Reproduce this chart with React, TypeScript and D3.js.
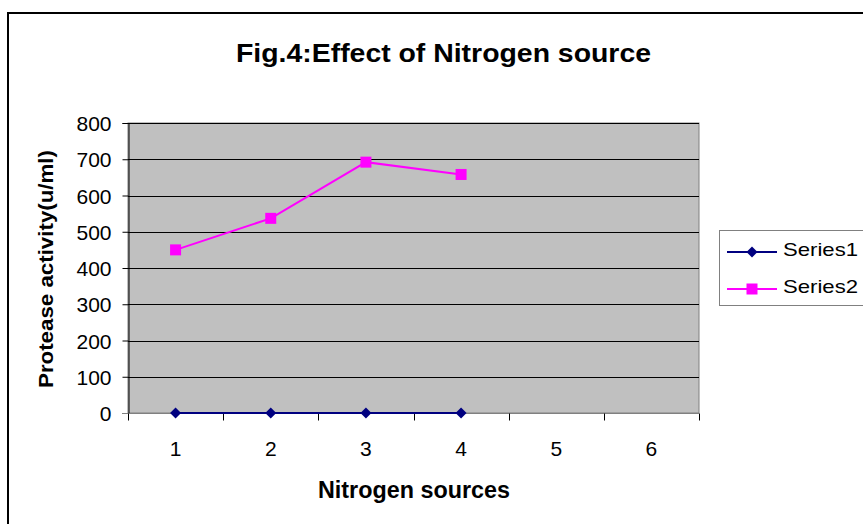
import { useEffect, useRef } from 'react';
import * as d3 from 'd3';

const categories = ['1', '2', '3', '4', '5', '6'];
const series1 = [0, 0, 0, 0];
const series2 = [450, 537, 692, 658];
const yTicks = [0, 100, 200, 300, 400, 500, 600, 700, 800];
const seriesNames = ['Series1', 'Series2'];

export default function App() {
    const svgRef = useRef<SVGSVGElement>(null);

    useEffect(() => {
        const width = 863;
        const height = 524;
        const font = 'Liberation Sans, Arial, sans-serif';

        d3.select(svgRef.current).selectAll('*').remove();
        const svg = d3.select(svgRef.current)
            .attr('width', width)
            .attr('height', height);

        svg.append('rect').attr('width', width).attr('height', height).attr('fill', '#fff');

        // outer chart border (runs off right and bottom)
        svg.append('path')
            .attr('d', `M8,${height + 5}V13H${width + 5}`)
            .attr('fill', 'none')
            .attr('stroke', '#000')
            .attr('stroke-width', 2);

        const plot = { left: 128, top: 123, right: 699, bottom: 413 };

        const x = d3.scaleBand().domain(categories).range([plot.left, plot.right]);
        const y = d3.scaleLinear().domain([0, 800]).range([plot.bottom, plot.top]);

        // plot area
        svg.append('rect')
            .attr('x', plot.left)
            .attr('y', plot.top)
            .attr('width', plot.right - plot.left)
            .attr('height', plot.bottom - plot.top)
            .attr('fill', '#c0c0c0')
            .attr('stroke', '#808080')
            .attr('stroke-width', 1);

        // gridlines
        svg.append('g')
            .selectAll('line')
            .data(yTicks.filter((d) => d > 0))
            .enter()
            .append('line')
            .attr('x1', plot.left)
            .attr('x2', plot.right)
            .attr('y1', (d) => Math.round(y(d)) + 0.5)
            .attr('y2', (d) => Math.round(y(d)) + 0.5)
            .attr('stroke', '#000')
            .attr('stroke-width', 1);

        // Y axis
        const yAxis = svg.append('g')
            .attr('transform', `translate(${plot.left + 0.5},0)`)
            .call(d3.axisLeft(y).tickValues(yTicks).tickSize(6).tickPadding(11));
        yAxis.select('.domain').attr('stroke', '#000');
        yAxis.selectAll('text')
            .style('font-family', font)
            .style('font-size', '21px')
            .attr('dy', '0.36em')
            .attr('fill', '#000');

        // X axis with ticks on band boundaries
        const xAxis = svg.append('g')
            .attr('transform', `translate(0,${plot.bottom + 0.5})`);
        xAxis.append('line')
            .attr('x1', plot.left - 6)
            .attr('x2', plot.right)
            .attr('stroke', '#808080');
        const bounds = categories.map((c) => x(c) as number).concat([plot.right]);
        xAxis.selectAll('.tk')
            .data(bounds)
            .enter()
            .append('line')
            .attr('x1', (d) => Math.round(d) + 0.5)
            .attr('x2', (d) => Math.round(d) + 0.5)
            .attr('y1', 0)
            .attr('y2', 7)
            .attr('stroke', '#000');
        xAxis.selectAll('.lbl')
            .data(categories)
            .enter()
            .append('text')
            .attr('x', (d) => (x(d) as number) + x.bandwidth() / 2)
            .attr('y', 42)
            .attr('text-anchor', 'middle')
            .style('font-family', font)
            .style('font-size', '21px')
            .text((d) => d);

        const cx = (i: number) => (x(categories[i]) as number) + x.bandwidth() / 2;
        const line = d3.line<number>().x((_, i) => cx(i)).y((d) => y(d));
        const diamond = 'M0,-5.5L5.5,0L0,5.5L-5.5,0Z';

        // Series1
        svg.append('path')
            .datum(series1)
            .attr('d', line)
            .attr('fill', 'none')
            .attr('stroke', '#000080')
            .attr('stroke-width', 2);
        svg.selectAll('.s1')
            .data(series1)
            .enter()
            .append('path')
            .attr('d', diamond)
            .attr('transform', (d, i) => `translate(${cx(i)},${y(d)})`)
            .attr('fill', '#000080');

        // Series2
        svg.append('path')
            .datum(series2)
            .attr('d', line)
            .attr('fill', 'none')
            .attr('stroke', '#ff00ff')
            .attr('stroke-width', 2);
        svg.selectAll('.s2')
            .data(series2)
            .enter()
            .append('rect')
            .attr('x', (d, i) => cx(i) - 5.5)
            .attr('y', (d) => y(d) - 5.5)
            .attr('width', 11)
            .attr('height', 11)
            .attr('fill', '#ff00ff');

        // Title
        svg.append('text')
            .attr('x', 443.5)
            .attr('y', 62)
            .attr('text-anchor', 'middle')
            .attr('textLength', 415)
            .attr('lengthAdjust', 'spacingAndGlyphs')
            .style('font-family', font)
            .style('font-size', '26px')
            .style('font-weight', 'bold')
            .text('Fig.4:Effect of Nitrogen source');

        // Axis titles
        svg.append('text')
            .attr('x', 414)
            .attr('y', 498)
            .attr('text-anchor', 'middle')
            .attr('textLength', 192)
            .attr('lengthAdjust', 'spacingAndGlyphs')
            .style('font-family', font)
            .style('font-size', '23px')
            .style('font-weight', 'bold')
            .text('Nitrogen sources');

        svg.append('text')
            .attr('transform', 'translate(53,269) rotate(-90)')
            .attr('text-anchor', 'middle')
            .attr('textLength', 238)
            .attr('lengthAdjust', 'spacingAndGlyphs')
            .style('font-family', font)
            .style('font-size', '21px')
            .style('font-weight', 'bold')
            .text('Protease activity(u/ml)');

        // Legend
        const lg = svg.append('g');
        lg.append('rect')
            .attr('x', 719.5)
            .attr('y', 230.5)
            .attr('width', 160)
            .attr('height', 75)
            .attr('fill', '#fff')
            .attr('stroke', '#808080');
        const colors = ['#000080', '#ff00ff'];
        seriesNames.forEach((name, i) => {
            const ly = 252 + i * 37;
            lg.append('line')
                .attr('x1', 727)
                .attr('x2', 777)
                .attr('y1', ly)
                .attr('y2', ly)
                .attr('stroke', colors[i])
                .attr('stroke-width', 2);
            if (i === 0) {
                lg.append('path')
                    .attr('d', diamond)
                    .attr('transform', `translate(752,${ly})`)
                    .attr('fill', colors[i]);
            } else {
                lg.append('rect')
                    .attr('x', 746.5)
                    .attr('y', ly - 5.5)
                    .attr('width', 11)
                    .attr('height', 11)
                    .attr('fill', colors[i]);
            }
            lg.append('text')
                .attr('x', 783)
                .attr('y', ly + 4)
                .attr('textLength', 75)
                .attr('lengthAdjust', 'spacingAndGlyphs')
                .style('font-family', font)
                .style('font-size', '19px')
                .text(name);
        });
    }, []);

    return (
        <div style={{ position: 'absolute', left: 0, top: 0 }}>
            <svg ref={svgRef} style={{ display: 'block' }}></svg>
        </div>
    );
}
